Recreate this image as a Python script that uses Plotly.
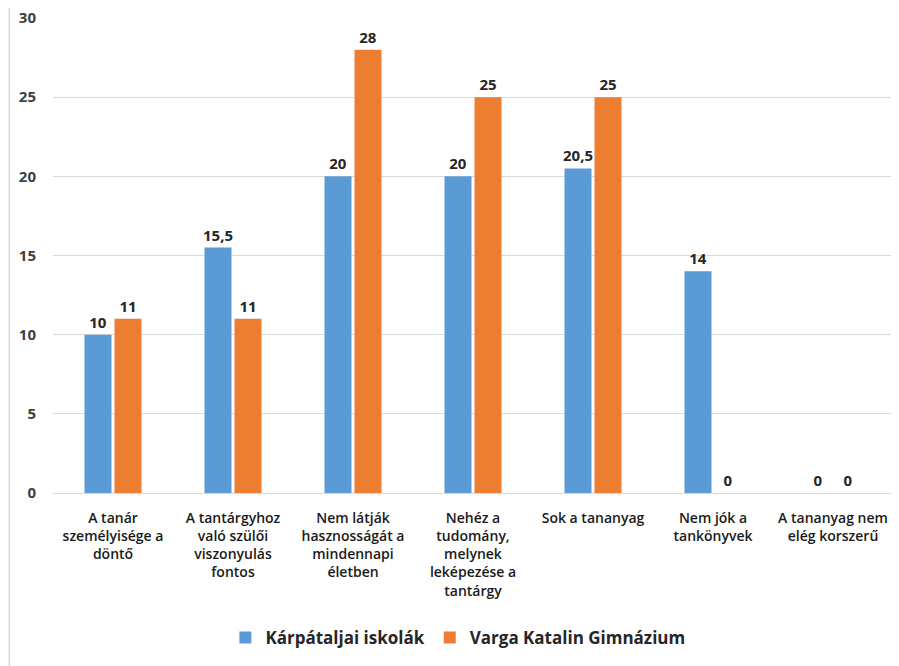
import plotly.graph_objects as go

categories = [
    "A tanár<br>személyisége a<br>döntő",
    "A tantárgyhoz<br>való szülői<br>viszonyulás<br>fontos",
    "Nem látják<br>hasznosságát a<br>mindennapi<br>életben",
    "Nehéz a<br>tudomány,<br>melynek<br>leképezése a<br>tantárgy",
    "Sok a tananyag",
    "Nem jók a<br>tankönyvek",
    "A tananyag nem<br>elég korszerű",
]
series_names = ["Kárpátaljai iskolák", "Varga Katalin Gimnázium"]
karpataljai = [10, 15.5, 20, 20, 20.5, 14, 0]
varga = [11, 11, 28, 25, 25, 0, 0]
y_ticks = [0, 5, 10, 15, 20, 25, 30]

def fmt(v):
    s = ("%g" % v)
    return s.replace(".", ",")

font_family = "'Open Sans', Lato, sans-serif"
fig = go.Figure()
for name, vals, color in [
    (series_names[0], karpataljai, "#5B9BD5"),
    (series_names[1], varga, "#ED7D31"),
]:
    fig.add_trace(go.Bar(
        x=categories, y=vals, name=name,
        marker=dict(color=color, line=dict(width=0)),
        text=[fmt(v) for v in vals],
        textposition="outside",
        constraintext="none",
        textfont=dict(family=font_family, size=15, color="#262626", weight="bold"),
        cliponaxis=False,
    ))

fig.update_layout(
    width=899, height=666,
    margin=dict(l=45, r=14, t=10, b=181),
    paper_bgcolor="white", plot_bgcolor="white",
    barmode="group", bargap=0.5, bargroupgap=0.1,
    font=dict(family=font_family, size=14, color="#262626"),
    showlegend=True,
    legend=dict(
        orientation="h", x=0.482, xanchor="center", y=-0.305, yanchor="middle",
        font=dict(family=font_family, size=17, color="#262626", weight="bold"),
        traceorder="normal",
    ),
)
fig.update_yaxes(
    range=[0, 30], tickvals=y_ticks, ticktext=[str(t) for t in y_ticks],
    showgrid=True, gridcolor="#D9D9D9", gridwidth=1,
    zeroline=False, showline=False, automargin=False,
    tickfont=dict(family=font_family, size=15, color="#404040", weight="bold"),
    ticklabelstandoff=16, ticklabeloverflow="allow",
)
fig.update_xaxes(
    showline=True, linecolor="#D9D9D9", linewidth=1,
    tickangle=0, ticks="", automargin=False,
    tickfont=dict(family=font_family, size=14, color="#1a1a1a", weight=600),
    ticklabelstandoff=12,
)
fig.add_shape(type="line", xref="paper", yref="paper",
              x0=-0.052, x1=-0.052, y0=-0.4, y1=1.03,
              line=dict(color="#D9D9D9", width=1.5))
fig.write_html("out.html")
